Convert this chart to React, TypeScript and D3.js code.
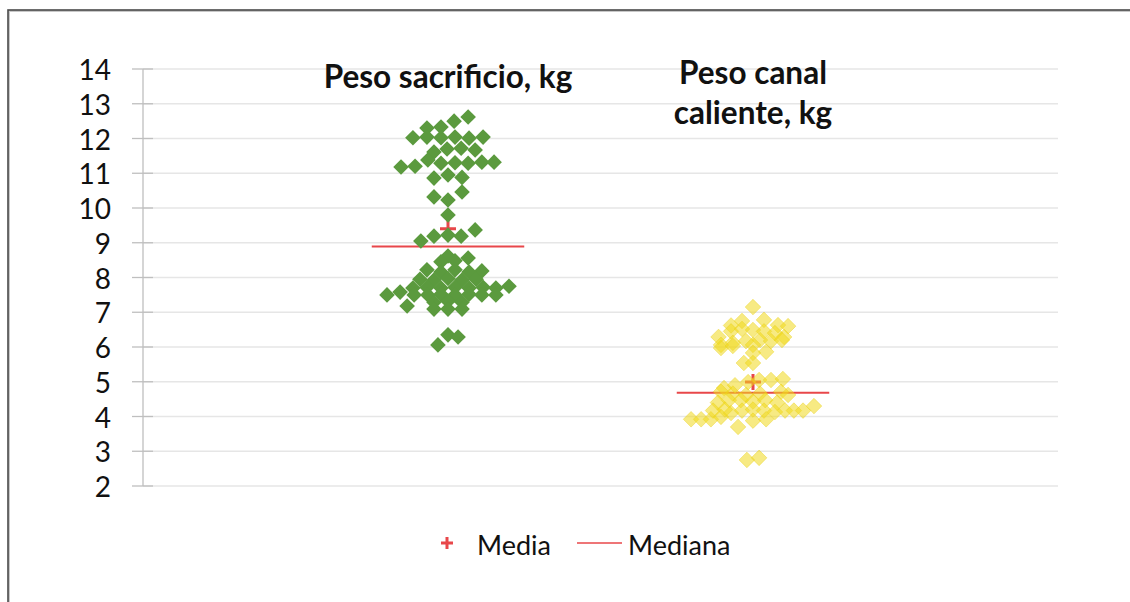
import React, { useEffect, useRef } from "react";
import * as d3 from "d3";

// Series 1: Peso sacrificio, kg  (x = 1 + jitter offset, y = value)
const sacrificioX = [
  0.066, 0.02, -0.023, -0.069,
  -0.115, -0.069, -0.023, 0.023, 0.069, 0.115,
  -0.003, 0.043, 0.089, -0.046,
  -0.154, -0.108, -0.066, -0.023, 0.023, 0.066, 0.111, 0.151,
  -0.046, 0, 0.046,
  -0.046, 0, 0.046,
  0,
  -0.089, -0.046, 0, 0.043, 0.089,
  0, -0.023, 0.023, 0.066,
  -0.069, -0.023, 0.023, 0.069, 0.111,
  -0.092, -0.046, 0, 0.046, 0.092,
  -0.115, -0.069, -0.023, 0.023, 0.069, 0.115, 0.157, 0.2,
  -0.2, -0.157, -0.111, -0.066, -0.023, 0.023, 0.069, 0.111, 0.157,
  -0.134, -0.046, 0, 0.046,
  -0.046, 0, 0.046,
  0, 0.033, -0.033,
];
const sacrificioY = [
  12.62, 12.5, 12.33, 12.3,
  12.02, 12.04, 12.02, 12.04, 12.01, 12.04,
  11.7, 11.72, 11.67, 11.61,
  11.18, 11.2, 11.38, 11.29, 11.3, 11.29, 11.32, 11.32,
  10.86, 10.95, 10.88,
  10.32, 10.23, 10.46,
  9.8,
  9.05, 9.19, 9.22, 9.19, 9.37,
  8.62, 8.45, 8.48, 8.56,
  8.22, 8.16, 8.22, 8.16, 8.19,
  7.95, 7.93, 7.97, 7.93, 7.95,
  7.7, 7.72, 7.7, 7.72, 7.7, 7.72, 7.7, 7.75,
  7.5, 7.58, 7.5, 7.5, 7.52, 7.5, 7.52, 7.5, 7.5,
  7.18, 7.29, 7.32, 7.29,
  7.09, 7.09, 7.09,
  6.35, 6.29, 6.06,
];

// Series 2: Peso canal caliente, kg  (x = 2 + jitter offset)
const calienteX = [
  0,
  -0.036, 0.036,
  -0.072, 0.082, 0.115,
  -0.113, -0.072, -0.036, 0, 0.036, 0.072, 0.102,
  -0.105, -0.066, -0.023, 0.023, 0.059, 0.095,
  -0.105, -0.066, 0, 0.043, 0,
  -0.03, 0,
  -0.095, -0.059, -0.016, 0.02, 0.059, 0.098,
  -0.105, -0.066, -0.023, 0.023, 0.092, 0.115,
  -0.115, -0.079, -0.04, 0, 0.04, 0.079,
  -0.203, -0.17, -0.138, -0.105, -0.072, -0.036, 0, 0.036, 0.072, 0.105, 0.134, 0.164, 0.2,
  -0.131, -0.092,
  -0.049, 0, 0.043,
  -0.02, 0.02,
];
const calienteY = [
  7.15,
  6.75, 6.78,
  6.62, 6.63, 6.6,
  6.29, 6.45, 6.52, 6.49, 6.45, 6.4, 6.29,
  6.06, 6.12, 6.17, 6.2, 6.17, 6.2,
  5.97, 6.03, 6.06, 5.86, 5.83,
  5.54, 5.54,
  4.82, 4.9, 4.99, 5.05, 5.05, 5.08,
  4.71, 4.66, 4.62, 4.66, 4.71, 4.62,
  4.4, 4.47, 4.47, 4.43, 4.47, 4.4,
  3.92, 3.92, 3.92, 3.99, 4.1, 4.17, 4.2, 4.17, 4.13, 4.17, 4.17, 4.17, 4.3,
  4.17, 4.2,
  3.7, 3.88, 3.92,
  2.75, 2.81,
];

const groupCenters = [1, 2];
const groupTitles = [["Peso sacrificio, kg"], ["Peso canal", "caliente, kg"]];
const mediaValues = [9.4, 4.99];
const medianaValues = [8.89, 4.68];
const yTicks = [2, 3, 4, 5, 6, 7, 8, 9, 10, 11, 12, 13, 14];
const legendLabels = ["Media", "Mediana"];

const W = 1130;
const H = 602;
const FONT = "Lato, 'Open Sans', sans-serif";

export default function App() {
  const ref = useRef<SVGSVGElement | null>(null);

  useEffect(() => {
    const svg = d3.select(ref.current);
    svg.selectAll("*").remove();

    const x = d3.scaleLinear().domain([0, 3]).range([143, 1058]);
    const y = d3.scaleLinear().domain([2, 14]).range([486, 69]);

    // frame
    svg.append("rect").attr("x", 9).attr("y", 11).attr("width", W).attr("height", H)
      .attr("fill", "none").attr("stroke", "#c8c8c8").attr("stroke-width", 2);
    svg.append("rect").attr("x", 8).attr("y", 10).attr("width", W).attr("height", H)
      .attr("fill", "none").attr("stroke", "#4a4a4a").attr("stroke-width", 1.6);

    // gridlines
    svg.append("g").selectAll("line").data(yTicks).join("line")
      .attr("x1", x(0)).attr("x2", x(3))
      .attr("y1", (d) => y(d)).attr("y2", (d) => y(d))
      .attr("stroke", "#e6e6e6").attr("stroke-width", 1.3);

    // axis
    const axis = svg.append("g");
    axis.append("line").attr("x1", x(0)).attr("x2", x(0)).attr("y1", y(14)).attr("y2", y(2))
      .attr("stroke", "#bfbfbf").attr("stroke-width", 1.3);
    axis.selectAll("line.t").data(yTicks).join("line").attr("class", "t")
      .attr("x1", x(0) - 11).attr("x2", x(0) + 10)
      .attr("y1", (d) => y(d)).attr("y2", (d) => y(d))
      .attr("stroke", "#bfbfbf").attr("stroke-width", 1.3);
    axis.selectAll("text").data(yTicks).join("text")
      .attr("x", 111).attr("y", (d) => y(d))
      .attr("text-anchor", "end").attr("dominant-baseline", "central")
      .attr("font-family", FONT).attr("font-size", 28).attr("fill", "#111")
      .text((d) => String(d));

    const red = "#e8474a";
    const plus = (cx: number, cy: number, s: number) =>
      `M${cx - s},${cy}H${cx + s}M${cx},${cy - s}V${cy + s}`;

    // mediana
    svg.append("g").selectAll("line").data(medianaValues).join("line")
      .attr("x1", (d, i) => x(groupCenters[i] - 0.25)).attr("x2", (d, i) => x(groupCenters[i] + 0.25))
      .attr("y1", (d) => y(d)).attr("y2", (d) => y(d))
      .attr("stroke", red).attr("stroke-width", 2);

    // media
    svg.append("g").selectAll("path").data(mediaValues).join("path")
      .attr("d", (d, i) => plus(x(groupCenters[i]), y(d), 8))
      .attr("stroke", red).attr("stroke-width", 3).attr("fill", "none");

    const diamond = d3.symbol().type(d3.symbolDiamond2).size(155);

    // series 1
    svg.append("g").selectAll("path").data(sacrificioY).join("path")
      .attr("d", diamond as any)
      .attr("transform", (d, i) => `translate(${x(1 + sacrificioX[i])},${y(d)})`)
      .attr("fill", "#5b9a3e");

    // series 2
    svg.append("g").selectAll("path").data(calienteY).join("path")
      .attr("d", diamond as any)
      .attr("transform", (d, i) => `translate(${x(2 + calienteX[i])},${y(d)})`)
      .attr("fill", "#f0d81e").attr("fill-opacity", 0.55)
      .attr("stroke", "#e8cf10").attr("stroke-opacity", 0.4).attr("stroke-width", 1);

    // titles
    groupTitles.forEach((lines, gi) => {
      const t = svg.append("text").attr("text-anchor", "middle")
        .attr("font-family", FONT).attr("font-weight", "bold").attr("font-size", 31.5).attr("fill", "#111");
      const startY = lines.length === 1 ? 88 : 84;
      lines.forEach((ln, li) => {
        t.append("tspan").attr("x", x(groupCenters[gi])).attr("y", startY + li * 40).text(ln);
      });
    });

    // legend
    const lg = svg.append("g");
    lg.append("path").attr("d", plus(447, 543, 6)).attr("stroke", red).attr("stroke-width", 3);
    lg.append("text").attr("x", 477).attr("y", 544).attr("dominant-baseline", "central")
      .attr("font-family", FONT).attr("font-size", 27).attr("fill", "#111").text(legendLabels[0]);
    lg.append("line").attr("x1", 577).attr("x2", 622).attr("y1", 543).attr("y2", 543)
      .attr("stroke", red).attr("stroke-width", 1.5);
    lg.append("text").attr("x", 628).attr("y", 544).attr("dominant-baseline", "central")
      .attr("font-family", FONT).attr("font-size", 27).attr("fill", "#111").text(legendLabels[1]);
  }, []);

  return (
    <svg ref={ref} width={W} height={H}
      style={{ position: "absolute", left: 0, top: 0, background: "#fff" }} />
  );
}
